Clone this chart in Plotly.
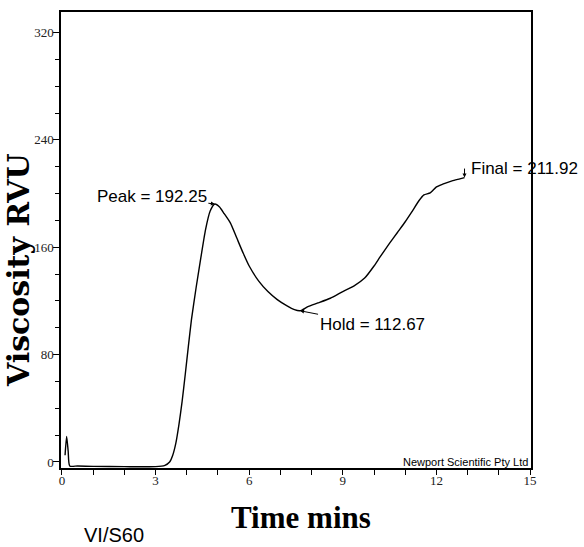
import plotly.graph_objects as go

# Time (minutes) and viscosity (RVU)
time_min = [0.10, 0.15, 0.20, 0.25, 0.5, 1.0, 2.0, 3.0, 3.3, 3.45, 3.55, 3.65, 3.75, 3.85,
            3.95, 4.05, 4.15, 4.3, 4.45, 4.6, 4.75, 4.9, 5.05, 5.2, 5.4, 5.6, 5.8, 6.0,
            6.3, 6.6, 6.9, 7.2, 7.45, 7.63, 7.9, 8.2, 8.6, 9.0, 9.35, 9.7, 10.0, 10.2,
            10.5, 10.75, 11.0, 11.2, 11.45, 11.6, 11.8, 12.0, 12.2, 12.5, 12.75, 12.9]
viscosity = [5, 19, 8, -3, -3, -3.3, -3.5, -3.5, -2.5, 0, 5, 14, 28, 45,
             65, 86, 106, 130, 152, 173, 187, 192.25, 190, 185, 178, 167, 156, 146,
             135, 127, 121, 116.5, 113.5, 112.67, 116, 118.5, 122, 127, 131, 137, 146, 153,
             163, 171, 179, 186, 195, 199, 200.5, 205, 207, 209.5, 211, 211.92]

x_ticks = [0, 3, 6, 9, 12, 15]
y_ticks = [0, 80, 160, 240, 320]

peak = (4.9, 192.25)
hold = (7.63, 112.67)
final = (12.9, 211.92)

fig = go.Figure()
fig.add_trace(go.Scatter(x=time_min, y=viscosity, mode="lines",
                         line=dict(color="black", width=1.4, shape="spline", smoothing=0.6),
                         showlegend=False, hoverinfo="skip"))

tickfont = dict(family="Liberation Serif", size=13, color="#222")
fig.update_xaxes(range=[-0.03, 15.03], tickvals=x_ticks, ticks="outside", ticklen=5,
                 tickwidth=1.2, tickcolor="black", showline=True, linecolor="black",
                 linewidth=1.5, mirror=True, showgrid=False, zeroline=False,
                 tickfont=tickfont, ticklabelstandoff=-5,
                 minor=dict(dtick=1, tick0=0, ticks="outside", ticklen=5,
                            tickcolor="black", tickwidth=1.2, showgrid=False))
fig.update_yaxes(range=[-4.5, 335.3], tickvals=y_ticks, ticks="outside", ticklen=6,
                 tickwidth=1.2, tickcolor="black", showline=True, linecolor="black",
                 linewidth=1.5, mirror=True, showgrid=False, zeroline=False,
                 tickfont=tickfont, ticklabelstandoff=-3,
                 minor=dict(dtick=20, tick0=0, ticks="outside", ticklen=4,
                            tickcolor="black", tickwidth=1.2, showgrid=False))

lab_font = dict(family="Liberation Sans", size=17, color="black")
anns = [
    dict(x=peak[0], y=peak[1], text="Peak = %.2f" % peak[1], ax=-63, ay=-7,
         font=lab_font, showarrow=True, arrowhead=2, arrowsize=0.8, arrowwidth=1,
         arrowcolor="black"),
    dict(x=hold[0], y=hold[1], text="Hold = %.2f" % hold[1], ax=72, ay=14,
         font=lab_font, showarrow=True, arrowhead=2, arrowsize=0.8, arrowwidth=1,
         arrowcolor="black"),
    dict(x=final[0], y=final[1], text="Final = %.2f" % final[1],
         font=lab_font, showarrow=False, xshift=60, yshift=9),
    dict(x=final[0], y=final[1], text=" ", ax=0, ay=-13, showarrow=True, arrowhead=2,
         arrowsize=0.8, arrowwidth=1, arrowcolor="black", font=dict(size=4)),
    dict(xref="paper", yref="paper", x=1, y=0, xanchor="right", yanchor="bottom",
         text="Newport Scientific Pty Ltd", showarrow=False, xshift=-1, yshift=-2,
         font=dict(family="Liberation Sans", size=11, color="black")),
    dict(xref="paper", yref="paper", x=0.511, y=0, xanchor="center", yanchor="middle",
         yshift=-49, text="<b>Time mins</b>", showarrow=False,
         font=dict(family="Liberation Serif", size=31, color="black")),
    dict(xref="paper", yref="paper", x=0, y=0.5, xanchor="center", yanchor="middle",
         xshift=-43, yshift=-30, textangle=-90, text="<b>Viscosity RVU</b>", showarrow=False,
         font=dict(family="DejaVu Serif", size=30, color="black")),
    dict(xref="paper", yref="paper", x=0.112, y=0, xanchor="center", yanchor="middle",
         yshift=-67, text="VI/S60", showarrow=False,
         font=dict(family="Liberation Sans", size=20, color="black")),
]
fig.update_layout(width=584, height=547, margin=dict(l=61, r=53, t=10, b=79),
                  plot_bgcolor="white", paper_bgcolor="white", annotations=anns)

fig.write_html("out.html", config={"displayModeBar": False},
               post_script="document.body.style.margin='0';")
